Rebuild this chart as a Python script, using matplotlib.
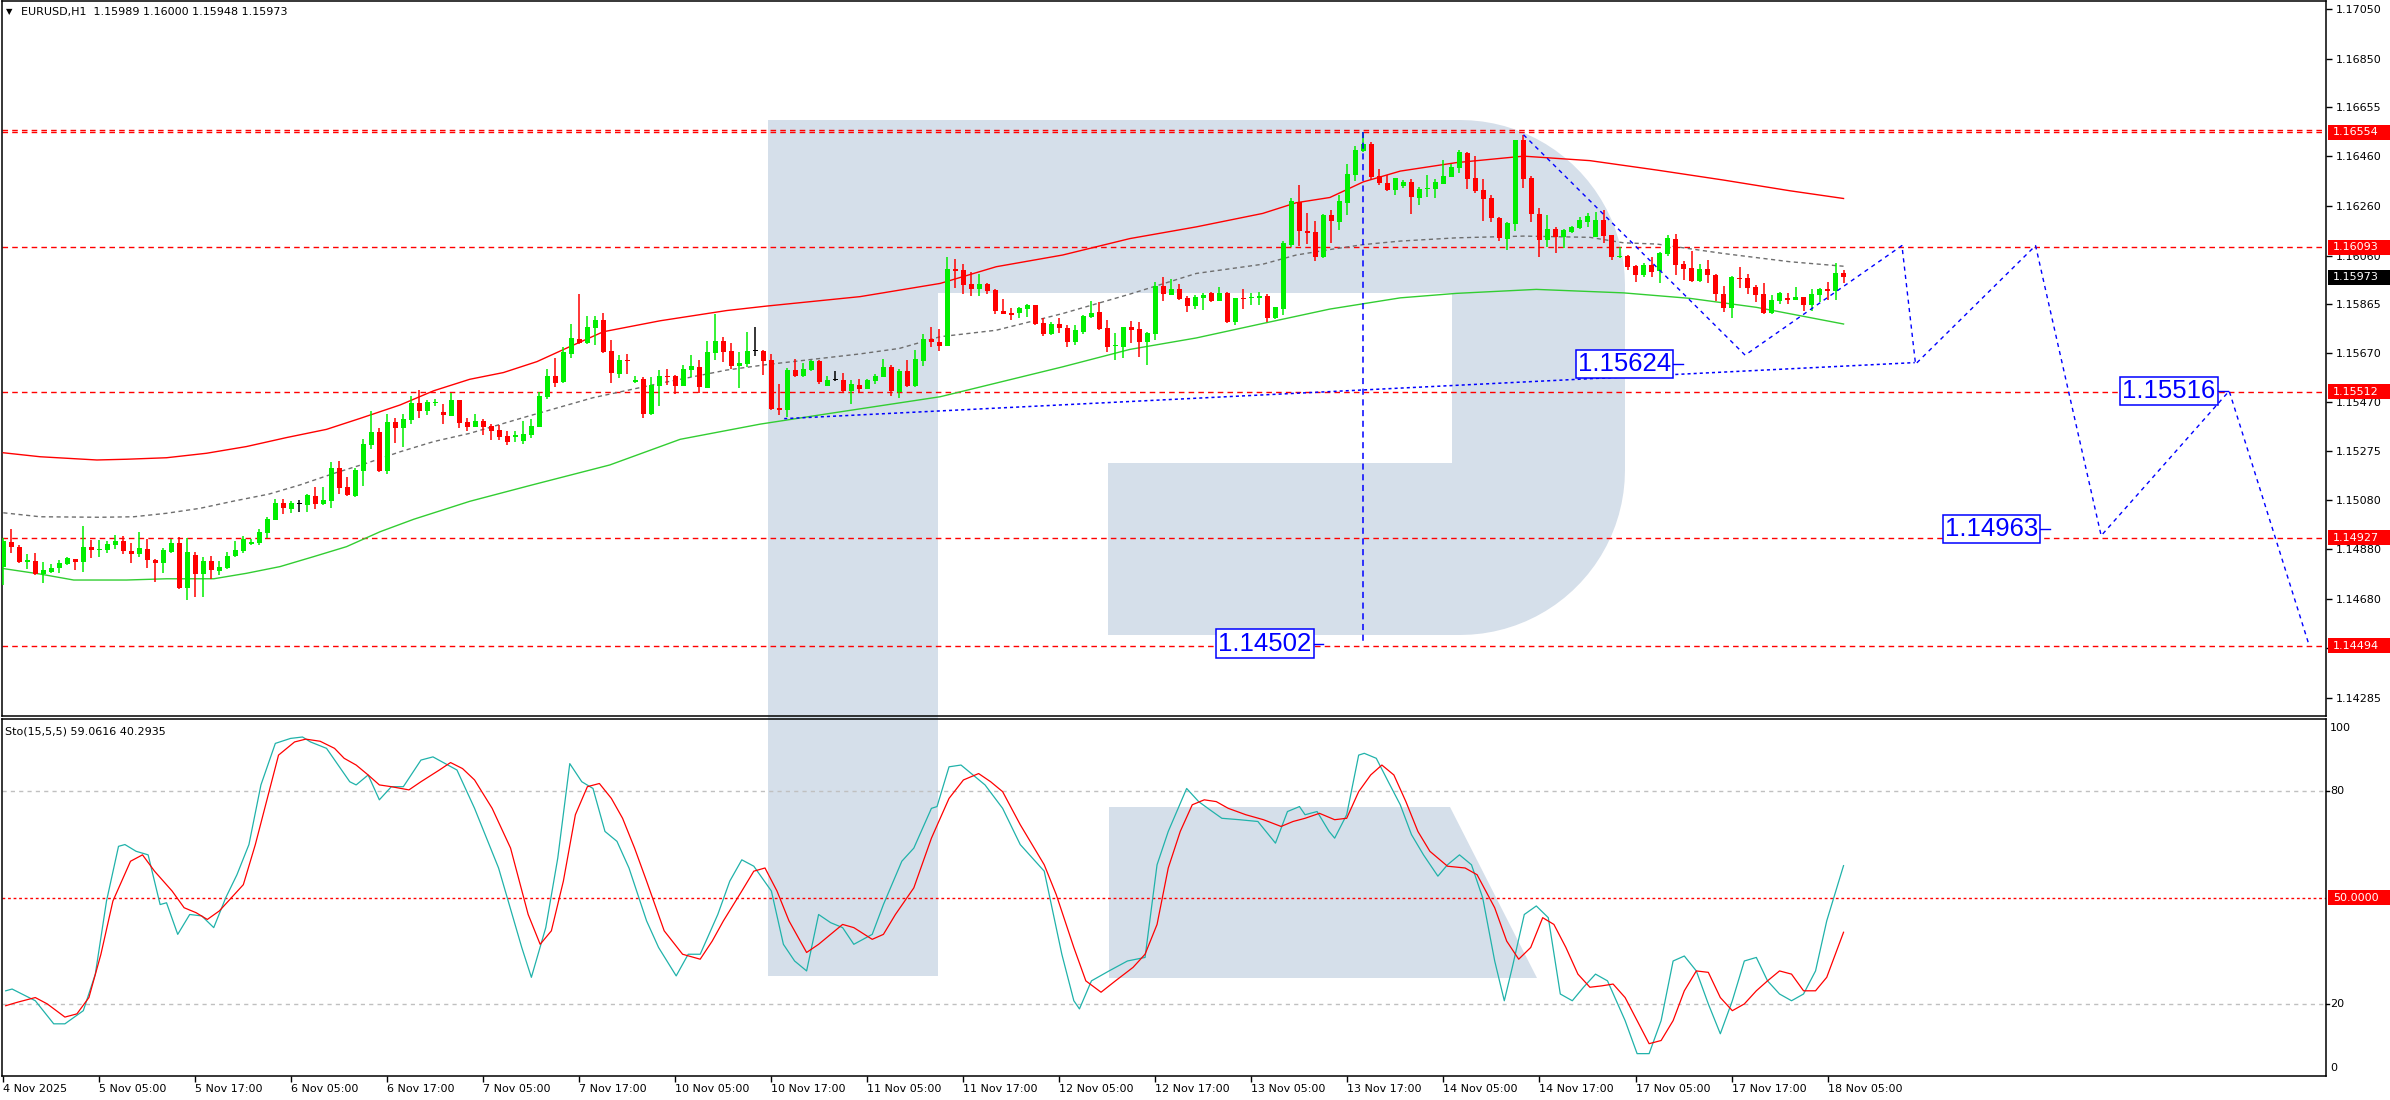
import matplotlib
matplotlib.use('Agg')
import matplotlib.pyplot as plt
import numpy as np
from matplotlib.patches import Rectangle, Polygon
from matplotlib.transforms import IdentityTransform, blended_transform_factory

# ---------------- data ----------------
opens = [1.14810,1.14910,1.14890,1.14831,1.14833,1.14781,1.14789,1.14805,1.14821,1.14841,
 1.14831,1.14890,1.14879,1.14877,1.14898,1.14914,1.14873,1.14861,1.14881,1.14837,
 1.14825,1.14869,1.14906,1.14725,1.14857,1.14781,1.14833,1.14793,1.14805,1.14853,
 1.14873,1.14902,1.14906,1.14946,1.14998,1.15066,1.15042,1.15062,1.15058,1.15094,
 1.15062,1.15074,1.15207,1.15131,1.15094,1.15195,1.15299,1.15351,1.15195,1.15392,
 1.15368,1.15400,1.15468,1.15437,1.15469,1.15432,1.15416,1.15480,1.15392,1.15373,
 1.15395,1.15377,1.15359,1.15337,1.15333,1.15315,1.15339,1.15373,1.15493,1.15576,
 1.15553,1.15666,1.15725,1.15709,1.15770,1.15801,1.15677,1.15584,1.15640,1.15552,
 1.15564,1.15424,1.15536,1.15576,1.15576,1.15536,1.15600,1.15612,1.15528,1.15669,
 1.15717,1.15677,1.15616,1.15624,1.15677,1.15677,1.15640,1.15448,1.15440,1.15600,
 1.15576,1.15600,1.15637,1.15536,1.15560,1.15560,1.15516,1.15540,1.15524,1.15556,
 1.15572,1.15612,1.15512,1.15596,1.15536,1.15637,1.15725,1.15712,1.15697,1.16005,
 1.16001,1.15946,1.15926,1.15946,1.15922,1.15838,1.15830,1.15830,1.15846,1.15862,
 1.15790,1.15746,1.15786,1.15770,1.15713,1.15754,1.15814,1.15834,1.15770,1.15695,
 1.15693,1.15774,1.15766,1.15713,1.15746,1.15938,1.15902,1.15926,1.15890,1.15858,
 1.15890,1.15910,1.15878,1.15910,1.15794,1.15890,1.15890,1.15890,1.15898,1.15810,
 1.15846,1.16103,1.16276,1.16159,1.16155,1.16055,1.16224,1.16195,1.16272,1.16384,
 1.16481,1.16507,1.16379,1.16351,1.16323,1.16339,1.16355,1.16291,1.16327,1.16327,
 1.16347,1.16375,1.16411,1.16471,1.16371,1.16323,1.16291,1.16210,1.16126,1.16186,
 1.16524,1.16371,1.16226,1.16122,1.16166,1.16134,1.16154,1.16170,1.16194,1.16134,
 1.16202,1.16142,1.16055,1.16058,1.16018,1.15983,1.16023,1.15999,1.16067,1.16126,
 1.16027,1.16011,1.15959,1.16007,1.15983,1.15906,1.15850,1.15971,1.15971,1.15935,
 1.15906,1.15830,1.15878,1.15890,1.15882,1.15894,1.15862,1.15902,1.15926,1.15918,
 1.15989]
highs = [1.14924,1.14961,1.14898,1.14861,1.14864,1.14829,1.14820,1.14837,1.14851,1.14843,
 1.14974,1.14918,1.14918,1.14914,1.14938,1.14934,1.14904,1.14950,1.14923,1.14843,
 1.14884,1.14922,1.14928,1.14924,1.14869,1.14851,1.14853,1.14833,1.14869,1.14914,
 1.14934,1.14920,1.14962,1.15011,1.15082,1.15081,1.15074,1.15078,1.15102,1.15131,
 1.15131,1.15231,1.15235,1.15172,1.15207,1.15323,1.15436,1.15366,1.15424,1.15408,
 1.15424,1.15496,1.15520,1.15480,1.15484,1.15464,1.15507,1.15480,1.15408,1.15424,
 1.15403,1.15382,1.15379,1.15357,1.15357,1.15395,1.15402,1.15513,1.15605,1.15650,
 1.15691,1.15785,1.15906,1.15817,1.15817,1.15829,1.15721,1.15661,1.15665,1.15576,
 1.15574,1.15572,1.15600,1.15605,1.15580,1.15620,1.15661,1.15640,1.15717,1.15825,
 1.15733,1.15709,1.15673,1.15753,1.15773,1.15681,1.15665,1.15544,1.15608,1.15645,
 1.15627,1.15642,1.15640,1.15576,1.15596,1.15588,1.15560,1.15564,1.15564,1.15584,
 1.15645,1.15620,1.15605,1.15640,1.15681,1.15745,1.15773,1.15764,1.16054,1.16045,
 1.16025,1.15993,1.15985,1.15950,1.15926,1.15885,1.15849,1.15854,1.15867,1.15862,
 1.15810,1.15794,1.15810,1.15782,1.15782,1.15822,1.15877,1.15874,1.15802,1.15750,
 1.15774,1.15798,1.15794,1.15754,1.15954,1.15975,1.15966,1.15946,1.15898,1.15902,
 1.15910,1.15914,1.15934,1.15914,1.15890,1.15926,1.15910,1.15914,1.15906,1.15854,
 1.16119,1.16292,1.16344,1.16232,1.16199,1.16228,1.16244,1.16304,1.16427,1.16499,
 1.16554,1.16515,1.16407,1.16383,1.16371,1.16363,1.16367,1.16335,1.16383,1.16367,
 1.16443,1.16427,1.16483,1.16475,1.16459,1.16367,1.16303,1.16214,1.16194,1.16524,
 1.16545,1.16379,1.16250,1.16222,1.16174,1.16166,1.16178,1.16214,1.16230,1.16234,
 1.16242,1.16142,1.16095,1.16063,1.16023,1.16031,1.16055,1.16075,1.16142,1.16146,
 1.16039,1.16079,1.16027,1.16043,1.15987,1.15938,1.15979,1.16015,1.15987,1.15943,
 1.15951,1.15902,1.15914,1.15910,1.15934,1.15894,1.15926,1.15930,1.15955,1.16031,
 1.16000]
lows = [1.14737,1.14867,1.14827,1.14800,1.14778,1.14746,1.14784,1.14786,1.14817,1.14797,
 1.14790,1.14847,1.14851,1.14867,1.14883,1.14863,1.14827,1.14851,1.14805,1.14749,
 1.14784,1.14864,1.14721,1.14677,1.14689,1.14689,1.14760,1.14777,1.14800,1.14851,
 1.14867,1.14897,1.14899,1.14926,1.14998,1.15022,1.15025,1.15030,1.15030,1.15042,
 1.15058,1.15047,1.15102,1.15094,1.15092,1.15135,1.15283,1.15191,1.15183,1.15306,
 1.15291,1.15384,1.15408,1.15420,1.15456,1.15384,1.15416,1.15368,1.15356,1.15370,
 1.15339,1.15319,1.15319,1.15300,1.15310,1.15305,1.15326,1.15370,1.15482,1.15533,
 1.15547,1.15650,1.15705,1.15706,1.15701,1.15669,1.15548,1.15568,1.15584,1.15547,
 1.15409,1.15420,1.15456,1.15540,1.15504,1.15536,1.15572,1.15508,1.15528,1.15640,
 1.15632,1.15605,1.15528,1.15614,1.15657,1.15580,1.15440,1.15420,1.15412,1.15572,
 1.15574,1.15598,1.15544,1.15536,1.15557,1.15512,1.15464,1.15512,1.15524,1.15544,
 1.15572,1.15496,1.15488,1.15533,1.15533,1.15616,1.15693,1.15677,1.15697,1.15930,
 1.15906,1.15898,1.15898,1.15906,1.15826,1.15826,1.15802,1.15810,1.15814,1.15782,
 1.15738,1.15742,1.15750,1.15693,1.15701,1.15746,1.15810,1.15762,1.15673,1.15641,
 1.15649,1.15709,1.15653,1.15620,1.15721,1.15878,1.15902,1.15882,1.15834,1.15846,
 1.15842,1.15874,1.15876,1.15790,1.15782,1.15846,1.15862,1.15862,1.15794,1.15806,
 1.15822,1.16095,1.16099,1.16107,1.16039,1.16051,1.16111,1.16163,1.16224,1.16360,
 1.16477,1.16363,1.16343,1.16319,1.16303,1.16331,1.16226,1.16263,1.16295,1.16291,
 1.16347,1.16375,1.16391,1.16327,1.16311,1.16198,1.16194,1.16118,1.16082,1.16158,
 1.16331,1.16194,1.16054,1.16094,1.16070,1.16090,1.16150,1.16166,1.16174,1.16134,
 1.16111,1.16043,1.16051,1.16003,1.15955,1.15975,1.15975,1.15951,1.16059,1.15983,
 1.15963,1.15955,1.15955,1.15951,1.15878,1.15834,1.15810,1.15931,1.15906,1.15874,
 1.15826,1.15826,1.15866,1.15866,1.15882,1.15838,1.15838,1.15874,1.15882,1.15882,
 1.15948]
closes = [1.14914,1.14891,1.14829,1.14837,1.14781,1.14797,1.14805,1.14825,1.14845,1.14829,
 1.14890,1.14877,1.14881,1.14902,1.14914,1.14873,1.14861,1.14885,1.14837,1.14825,
 1.14877,1.14906,1.14725,1.14869,1.14781,1.14833,1.14797,1.14809,1.14853,1.14877,
 1.14922,1.14910,1.14950,1.15002,1.15066,1.15046,1.15066,1.15062,1.15098,1.15062,
 1.15078,1.15207,1.15126,1.15098,1.15199,1.15303,1.15351,1.15195,1.15392,1.15368,
 1.15404,1.15468,1.15436,1.15472,1.15472,1.15420,1.15480,1.15388,1.15372,1.15395,
 1.15373,1.15355,1.15333,1.15312,1.15339,1.15343,1.15375,1.15496,1.15576,1.15549,
 1.15673,1.15729,1.15709,1.15773,1.15801,1.15673,1.15588,1.15640,1.15635,1.15560,
 1.15424,1.15540,1.15576,1.15572,1.15536,1.15605,1.15616,1.15532,1.15673,1.15717,
 1.15673,1.15616,1.15628,1.15677,1.15677,1.15637,1.15444,1.15440,1.15600,1.15576,
 1.15605,1.15637,1.15552,1.15560,1.15560,1.15516,1.15544,1.15524,1.15560,1.15576,
 1.15612,1.15516,1.15596,1.15536,1.15645,1.15725,1.15713,1.15697,1.16005,1.15999,
 1.15942,1.15926,1.15946,1.15918,1.15838,1.15826,1.15822,1.15849,1.15862,1.15786,
 1.15746,1.15786,1.15770,1.15713,1.15762,1.15818,1.15830,1.15766,1.15693,1.15697,
 1.15774,1.15762,1.15713,1.15750,1.15938,1.15906,1.15926,1.15886,1.15858,1.15894,
 1.15902,1.15878,1.15910,1.15794,1.15890,1.15886,1.15894,1.15898,1.15810,1.15854,
 1.16111,1.16280,1.16159,1.16151,1.16055,1.16224,1.16199,1.16280,1.16387,1.16483,
 1.16507,1.16375,1.16351,1.16323,1.16371,1.16355,1.16295,1.16327,1.16331,1.16355,
 1.16379,1.16415,1.16475,1.16367,1.16319,1.16287,1.16210,1.16130,1.16190,1.16524,
 1.16367,1.16226,1.16122,1.16166,1.16134,1.16162,1.16174,1.16202,1.16218,1.16202,
 1.16138,1.16055,1.16058,1.16015,1.15983,1.16023,1.15995,1.16070,1.16130,1.16023,
 1.16007,1.15959,1.16007,1.15983,1.15906,1.15850,1.15975,1.15967,1.15931,1.15902,
 1.15830,1.15882,1.15910,1.15882,1.15894,1.15862,1.15906,1.15926,1.15918,1.15991,
 1.15973]

# Bollinger-style bands (bar index, price)
upper_x = [0, 4.6, 11.7, 15.4, 20.4, 25.4, 30.4, 35.4, 40.4, 44.6, 49.6, 53.8, 58.3, 62.5, 66.7, 70.8, 75.0,
           82.1, 90.4, 95.4, 107.1, 117.1, 124.1, 132.4, 140.8, 149.1, 157.4, 161.6, 165.8, 170.0, 174.6,
           181.6, 190.0, 198.3, 206.7, 215.0, 223.3, 230]
upper_v = [1.15268, 1.15252, 1.15239, 1.15242, 1.15248, 1.15266, 1.15293, 1.15329, 1.15362, 1.15406, 1.15460,
           1.15517, 1.15563, 1.15590, 1.15634, 1.15694, 1.15754, 1.15798, 1.15839, 1.15857, 1.15895, 1.15948,
           1.16015, 1.16062, 1.16128, 1.16175, 1.16229, 1.16272, 1.16293, 1.16356, 1.16399, 1.16433, 1.16459,
           1.16441, 1.16403, 1.16363, 1.16320, 1.16289]
mid_x = [0, 4.6, 12.1, 16.3, 20.4, 24.6, 28.8, 33.2, 37.1, 41.3, 45.4, 49.6, 53.8, 58.3, 65.4, 73.7, 82.1,
         90.4, 95.4, 107.1, 112.0, 117.1, 124.1, 132.4, 140.8, 149.1, 157.4, 161.6, 165.8, 170.0, 174.6, 181.6,
         190.0, 198.3, 202.5, 206.7, 215.0, 223.3, 230]
mid_v = [1.15027, 1.15011, 1.15009, 1.15011, 1.15025, 1.15045, 1.15074, 1.15102, 1.15139, 1.15185, 1.15226,
         1.15272, 1.15313, 1.15346, 1.15413, 1.15489, 1.15547, 1.15600, 1.15622, 1.15665, 1.15687, 1.15734,
         1.15760, 1.15827, 1.15905, 1.15988, 1.16025, 1.16062, 1.16084, 1.16104, 1.16118, 1.16131, 1.16138,
         1.16133, 1.16111, 1.16106, 1.16068, 1.16035, 1.16017]
lower_x = [0, 4.6, 8.8, 15.4, 20.4, 26.3, 30.4, 34.6, 38.8, 42.9, 47.1, 51.3, 58.3, 66.0, 75.8, 84.6, 94.6,
           102.9, 117.1, 120.8, 132.4, 140.8, 149.1, 157.4, 165.8, 174.6, 181.6, 191.6, 202.5, 210.8, 219.1, 230]
lower_v = [1.14803, 1.14781, 1.14757, 1.14757, 1.14762, 1.14762, 1.14784, 1.14811, 1.14851, 1.14891, 1.14951,
           1.15001, 1.15073, 1.15138, 1.15219, 1.15322, 1.15383, 1.15424, 1.15493, 1.15522, 1.15613, 1.15683,
           1.15729, 1.15787, 1.15845, 1.15890, 1.15908, 1.15924, 1.15910, 1.15888, 1.15852, 1.15785]

# Stochastic (bar index, value)
k_x = [0.3, 1.1, 4.0, 6.3, 7.7, 10.0, 11.5, 12.9, 14.4, 15.2, 16.6, 18.1, 19.6, 20.4, 21.8, 23.3, 24.8, 26.3,
       27.8, 29.2, 30.7, 32.2, 34.0, 35.9, 37.4, 38.4, 40.4, 43.3, 44.1, 45.6, 47.0, 48.5, 50.0, 52.2, 53.7,
       56.7, 58.9, 61.9, 64.8, 66.0, 67.8, 69.3, 70.8, 72.3, 73.7, 75.2, 76.7, 78.2, 80.4, 81.9, 84.1, 85.6,
       87.1, 89.3, 90.8, 92.3, 93.8, 96.0, 97.5, 98.9, 100.4, 101.9, 103.4, 104.9, 106.3, 108.6, 110.0, 112.3,
       113.8, 116.0, 116.7, 118.2, 119.7, 121.2, 122.7, 124.9, 127.1, 130.1, 132.3, 133.8, 134.5, 136.0, 138.2,
       140.5, 142.7, 144.2, 145.6, 147.9, 149.4, 150.8, 152.3, 154.5, 156.8, 159.0, 160.5, 162.0, 162.7, 164.2,
       165.7, 166.4, 167.9, 169.4, 170.1, 171.6, 173.1, 174.6, 176.0, 177.5, 179.3, 180.5, 182.0, 183.5, 184.9,
       186.4, 187.6, 188.6, 190.1, 191.6, 193.1, 194.6, 196.1, 197.5, 199.0, 200.5, 202.7, 204.2, 205.7, 207.2,
       208.7, 210.1, 211.6, 213.1, 214.6, 216.1, 217.6, 219.1, 220.5, 222.0, 223.5, 225.0, 226.5, 227.9, 230.0]
k_v = [23.8, 24.3, 21.0, 14.5, 14.5, 18.2, 28.5, 49.1, 64.5, 65.0, 63.1, 62.1, 48.1, 48.6, 39.7, 45.3, 44.9,
       41.6, 50.0, 56.5, 65.0, 81.8, 93.5, 94.9, 95.3, 93.9, 92.1, 82.7, 81.8, 84.6, 77.6, 81.3, 81.3, 88.8,
       89.7, 86.0, 75.2, 58.4, 36.0, 27.6, 41.6, 61.2, 87.8, 82.7, 80.8, 68.7, 65.9, 58.4, 43.5, 36.0, 28.0,
       34.1, 34.1, 45.3, 54.7, 60.7, 58.9, 51.9, 36.9, 32.2, 29.4, 45.3, 43.0, 41.6, 36.9, 39.7, 48.1, 60.3,
       64.0, 75.2, 75.7, 86.9, 87.4, 84.6, 81.8, 75.2, 65.0, 57.5, 34.1, 21.0, 18.7, 26.6, 29.4, 32.2, 33.2,
       59.3, 68.7, 80.8, 77.1, 74.8, 72.4, 72.0, 71.5, 65.4, 74.3, 75.7, 73.4, 74.3, 68.7, 66.8, 73.4, 90.2,
       90.7, 89.3, 82.7, 76.2, 67.8, 62.1, 56.1, 59.3, 62.1, 59.3, 50.0, 32.2, 21.0, 30.4, 45.3, 47.7, 44.4,
       22.9, 21.0, 24.8, 28.5, 26.6, 15.4, 6.1, 6.1, 15.4, 32.2, 33.6, 29.4, 20.1, 11.7, 21.0, 32.2, 33.2,
       26.6, 22.9, 21.0, 22.9, 29.4, 43.5, 59.06]
d_x = [0.3, 1.8, 4.0, 5.5, 7.7, 9.2, 10.7, 12.2, 13.7, 15.9, 17.4, 18.9, 21.1, 22.6, 24.1, 25.5, 27.0, 28.5,
       30.0, 31.5, 33.0, 34.4, 36.4, 37.8, 39.6, 41.4, 42.6, 44.1, 45.6, 47.0, 48.5, 50.7, 52.2, 54.5, 55.9,
       57.4, 58.9, 61.1, 63.4, 65.6, 67.1, 68.5, 70.0, 71.5, 73.0, 74.5, 76.0, 77.4, 78.9, 80.4, 82.6, 84.9,
       87.1, 88.6, 90.0, 92.3, 93.8, 95.2, 96.7, 98.2, 100.4, 101.9, 103.4, 104.9, 106.3, 108.6, 110.0, 111.5,
       113.8, 116.0, 118.2, 120.0, 121.9, 123.4, 124.9, 127.1, 130.1, 131.6, 133.8, 135.3, 137.2, 139.0, 141.2,
       142.7, 144.2, 145.6, 147.1, 148.6, 150.1, 151.6, 153.1, 155.3, 157.5, 159.7, 161.2, 162.7, 164.5, 166.4,
       167.9, 169.4, 170.9, 172.3, 173.8, 175.3, 176.8, 178.3, 180.5, 182.7, 184.2, 186.4, 187.9, 189.4, 190.9,
       192.4, 193.8, 195.3, 196.8, 198.3, 199.8, 201.2, 202.7, 204.2, 205.7, 207.2, 208.7, 210.1, 211.6, 213.1,
       214.6, 216.1, 217.6, 219.1, 220.5, 222.0, 223.5, 225.0, 226.5, 227.9, 230.0]
d_v = [19.6, 20.6, 21.9, 20.1, 16.4, 17.3, 21.9, 34.1, 49.1, 60.3, 62.1, 57.5, 51.9, 47.2, 45.8, 43.9, 46.3,
       50.0, 53.7, 65.0, 78.0, 90.2, 93.9, 94.7, 94.1, 92.1, 89.3, 87.4, 84.6, 81.8, 81.3, 80.4, 82.7, 86.0,
       88.1, 86.4, 83.2, 75.2, 64.0, 45.3, 36.9, 40.7, 54.7, 73.4, 81.3, 82.2, 78.0, 72.4, 64.0, 54.7, 40.7,
       34.1, 32.7, 37.8, 43.5, 51.9, 57.5, 58.4, 51.9, 43.5, 34.6, 36.9, 39.7, 42.5, 41.6, 38.3, 39.7, 45.3,
       52.8, 66.8, 78.0, 83.2, 85.0, 82.7, 79.9, 70.6, 59.3, 50.9, 36.0, 26.6, 23.4, 26.6, 30.4, 34.1, 42.5,
       58.4, 68.7, 76.2, 77.6, 77.1, 75.2, 73.4, 72.0, 70.1, 71.5, 72.4, 73.8, 72.0, 72.4, 79.9, 84.6, 87.4,
       84.6, 77.1, 68.7, 63.1, 58.9, 58.4, 56.5, 47.2, 37.8, 32.7, 36.0, 44.4, 42.5, 36.0, 28.5, 24.8, 25.2,
       25.7, 21.9, 15.4, 8.9, 9.8, 15.4, 23.8, 29.4, 29.0, 21.9, 18.2, 20.1, 23.8, 26.6, 29.4, 28.5, 23.8,
       23.8, 27.6, 40.29]

# horizontal levels and forecast drawings
red_levels = [1.16566, 1.16554, 1.16093, 1.15512, 1.14927, 1.14494]
trend_x = [97.6, 238.9]
trend_y = [1.15405, 1.15630]
vline_x = [170, 170]
vline_y = [1.16554, 1.14502]
zz_x = [190, 217.7, 237.3, 239, 254, 262.2, 278.2, 288.2]
zz_y = [1.16545, 1.15660, 1.16100, 1.15624, 1.16100, 1.14935, 1.15516, 1.14494]
box_labels = ['1.15624', '1.14502', '1.14963', '1.15516']
box_x = [208.4, 163.5, 254.3, 276.5]
box_y = [1.15624, 1.14502, 1.14963, 1.15516]

price_ticks = [1.17050, 1.16850, 1.16655, 1.16460, 1.16260, 1.16060, 1.15865, 1.15670, 1.15470,
               1.15275, 1.15080, 1.14880, 1.14680, 1.14485, 1.14285]
marker_labels = ['1.16554', '1.16093', '1.15973', '1.15512', '1.14927', '1.14494']
marker_vals = [1.16554, 1.16093, 1.15973, 1.15512, 1.14927, 1.14494]
marker_cols = ['#FF0000', '#FF0000', '#000000', '#FF0000', '#FF0000', '#FF0000']

date_pos = [0, 12, 24, 36, 48, 60, 72, 84, 96, 108, 120, 132, 144, 156, 168, 180, 192, 204, 216, 228]
date_lbl = ['4 Nov 2025', '5 Nov 05:00', '5 Nov 17:00', '6 Nov 05:00', '6 Nov 17:00', '7 Nov 05:00',
            '7 Nov 17:00', '10 Nov 05:00', '10 Nov 17:00', '11 Nov 05:00', '11 Nov 17:00', '12 Nov 05:00',
            '12 Nov 17:00', '13 Nov 05:00', '13 Nov 17:00', '14 Nov 05:00', '14 Nov 17:00', '17 Nov 05:00',
            '17 Nov 17:00', '18 Nov 05:00']

# ---------------- figure ----------------
W, H = 2390, 1100
plt.rcParams['font.family'] = ['DejaVu Sans']
fig = plt.figure(figsize=(W / 100, H / 100), dpi=100)
fig.patch.set_facecolor('white')

def fx(px):
    return px / W

def fy(py):
    return 1 - py / H

L_, R_ = 2.3, 2326
ax = fig.add_axes([fx(L_), fy(716), fx(R_) - fx(L_), fy(1) - fy(716)])
ax2 = fig.add_axes([fx(L_), fy(1076), fx(R_) - fx(L_), fy(719) - fy(1076)])
for a in (ax, ax2):
    a.set_facecolor('none')
    for s in a.spines.values():
        s.set_linewidth(1.1)
        s.set_color('black')
    a.set_xlim(-0.125, 290.3)

ax.set_ylim(1.14211, 1.17082)
ax2.set_ylim(-0.2, 100.37)

# watermark logo (pixel coordinates)
logo_col = '#D5DFEA'
Rr = 165
pts = [(768, 120), (1460, 120)]
for t in np.linspace(90, 0, 24):
    pts.append((1460 + Rr * np.cos(np.radians(t)), 285 - Rr * np.sin(np.radians(t))))
pts.append((1625, 470))
for t in np.linspace(0, 90, 24):
    pts.append((1460 + Rr * np.cos(np.radians(t)), 470 + Rr * np.sin(np.radians(t))))
pts += [(1108, 635), (1108, 463), (1452, 463), (1452, 293), (938, 293), (938, 976), (768, 976)]
pts_d = [(x, H - y) for x, y in pts]
fig.add_artist(Polygon(pts_d, closed=True, transform=IdentityTransform(), fc=logo_col, ec='none', zorder=-1))
trap = [(1109, 807), (1450, 807), (1537, 978), (1109, 978)]
fig.add_artist(Polygon([(x, H - y) for x, y in trap], closed=True, transform=IdentityTransform(),
                       fc=logo_col, ec='none', zorder=-1))

# level lines
for lv in red_levels:
    ax.axhline(lv, color='#FF0000', lw=1.0, ls=(0, (4, 3)), zorder=2)

# bands
ax.plot(upper_x, upper_v, color='#FF0000', lw=1.0, zorder=3)
ax.plot(lower_x, lower_v, color='#32CD32', lw=1.0, zorder=3)
ax.plot(mid_x, mid_v, color='#6E6E6E', lw=1.0, ls=(0, (3, 2.5)), zorder=3)

# candles
o = np.array(opens); c = np.array(closes); hh = np.array(highs); ll = np.array(lows)
idx = np.arange(len(o))
cols = np.where(c > o, '#00EE00', np.where(c < o, '#FF0000', '#000000'))
ax.vlines(idx, ll, hh, colors=cols, lw=1.1, zorder=4)
body_b = np.minimum(o, c)
body_h = np.maximum(np.abs(c - o), 0.00004)
ax.bar(idx, body_h, bottom=body_b, width=0.62, color=cols, lw=0, zorder=5)

# forecast drawings
ax.plot(trend_x, trend_y, color='#0000FF', lw=1.1, ls=(0, (2, 2)), zorder=6)
ax.plot(vline_x, vline_y, color='#0000FF', lw=1.1, ls=(0, (4, 3)), zorder=6)
ax.plot(zz_x, zz_y, color='#0000FF', lw=1.0, ls=(0, (3, 3)), zorder=6)
for t, x, y in zip(box_labels, box_x, box_y):
    ax.text(x, y, t, color='#0000FF', fontsize=18.5, family=['Liberation Sans', 'DejaVu Sans'],
            ha='right', va='center', zorder=8,
            bbox=dict(boxstyle='square,pad=0.08', fc='white', ec='#0000FF', lw=1.1))
    ax.plot([x + 0.3, x + 1.5], [y, y], color='#0000FF', lw=1.0, zorder=7)

# price axis ticks
ax.yaxis.tick_right()
ax.set_yticks(price_ticks)
ax.set_yticklabels(['%.5f' % v for v in price_ticks])
ax.tick_params(axis='y', which='both', length=4, width=1, pad=3, labelsize=8, direction='out')
ax.set_xticks([])

# stochastic
ax2.axhline(80, color='#C0C0C0', lw=1.0, ls=(0, (3, 3)), zorder=1)
ax2.axhline(20, color='#C0C0C0', lw=1.0, ls=(0, (3, 3)), zorder=1)
ax2.axhline(50, color='#FF0000', lw=1.0, ls=(0, (2, 2)), zorder=1)
ax2.plot(k_x, k_v, color='#20B2AA', lw=0.9, zorder=3)
ax2.plot(d_x, d_v, color='#FF0000', lw=0.9, zorder=4)
ax2.set_yticks([])
ax2.set_xticks(date_pos)
ax2.set_xticklabels(date_lbl)
for lab in ax2.get_xticklabels():
    lab.set_horizontalalignment('left')
ax2.tick_params(axis='x', length=4, width=1, pad=2, labelsize=8, direction='out')
btr = blended_transform_factory(ax2.transAxes, ax2.transData)
for val, txt in [(97.8, '100'), (80, '80'), (20, '20'), (2.1, '0')]:
    ax2.text(1 + 4 / 2323.7, val, txt, transform=btr, fontsize=8, va='center', ha='left', clip_on=False)
ax2.plot([1, 1 + 3 / 2323.7], [80, 80], transform=btr, color='black', lw=1, clip_on=False)
ax2.plot([1, 1 + 3 / 2323.7], [20, 20], transform=btr, color='black', lw=1, clip_on=False)

# header texts
fig.text(fx(6), fy(12), '\u25BC', fontsize=6, va='center', ha='left')
fig.text(fx(21), fy(12), 'EURUSD,H1  1.15989 1.16000 1.15948 1.15973', fontsize=8, va='center', ha='left')
fig.text(fx(5), fy(731), 'Sto(15,5,5) 59.0616 40.2935', fontsize=8, va='center', ha='left')

# coloured price markers on the right scale
def right_marker(axis, val, text, fc):
    yd = axis.transData.transform((0, val))[1]
    fig.add_artist(Rectangle((2328, yd - 7.5), 62, 15, transform=IdentityTransform(),
                             fc=fc, ec='none', zorder=10))
    fig.text(fx(2333), yd / H, text, color='white', fontsize=8, va='center', ha='left', zorder=11)

for t, v, cc in zip(marker_labels, marker_vals, marker_cols):
    right_marker(ax, v, t, cc)
right_marker(ax2, 50, '50.0000', '#FF0000')

fig.savefig('out.png', dpi=100, facecolor='white')
